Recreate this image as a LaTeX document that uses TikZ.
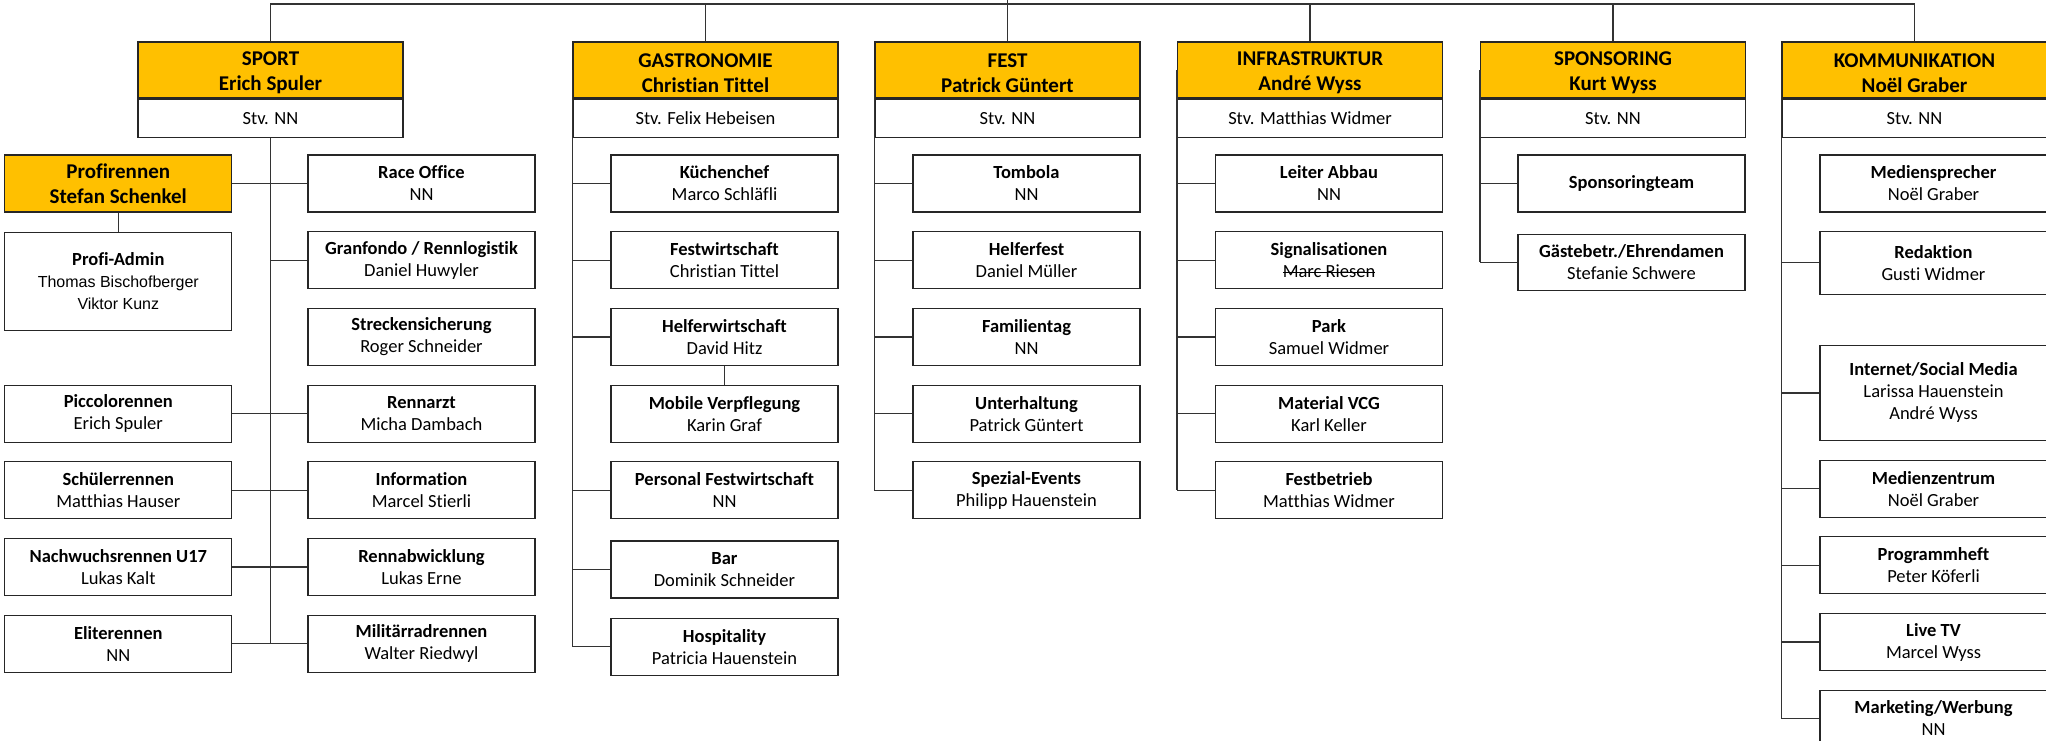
\documentclass[tikz,border=0pt]{standalone}
\usepackage{fontspec}
\setmainfont{Carlito}[Ligatures={NoCommon,NoContextual}]
\newfontfamily\arialfont{Liberation Sans}
\usetikzlibrary{positioning}
\definecolor{headgold}{HTML}{FFC000}
\newcommand\orghead{\fontsize{21}{25}\selectfont\bfseries}
\newcommand\orgunit{\fontsize{18.5}{22}\selectfont}
\newcommand\orgarial{\arialfont\fontsize{16}{20}\selectfont}
\newsavebox\strikebox
\newcommand\strikeout[1]{\sbox\strikebox{#1}\rlap{\rule[0.25em]{\wd\strikebox}{0.07em}}\usebox\strikebox}

\begin{document}
\begin{tikzpicture}[
	x=1pt,y=-1pt,
	node distance=18.5pt and 38pt,
	deptbox/.style={draw=black!85,line width=1.2pt,fill=headgold,minimum width=265pt,minimum height=56pt,align=center,font=\orghead,inner sep=0pt},
	stvbox/.style={draw=black!85,line width=1.2pt,fill=white,minimum width=265pt,minimum height=38pt,font=\orgunit,inner sep=0pt},
	unitbox/.style={draw=black!85,line width=1.2pt,fill=white,minimum width=227pt,minimum height=57pt,align=center,font=\orgunit,inner sep=0pt},
	link/.style={draw=black!80,line width=1.4pt}
	]
	\useasboundingbox (0,0) rectangle (2046,740);
	\coordinate (top) at (1007.5,4);
	\coordinate (root) at (1007.5,-10);

	\node[deptbox] (sport) at (270.5,70) {\rule{0pt}{20pt}SPORT\\Erich Spuler};
	\node[stvbox,below=0pt of sport] (sportstv) {Stv. NN};
	\node[deptbox] (gastro) at (705.5,70) {\rule{0pt}{20pt}GASTRONOMIE\\Christian Tittel};
	\node[stvbox,below=0pt of gastro] (gastrostv) {Stv. Felix Hebeisen};
	\node[deptbox] (fest) at (1007.5,70) {\rule{0pt}{20pt}FEST\\Patrick Güntert};
	\node[stvbox,below=0pt of fest] (feststv) {Stv. NN};
	\node[deptbox] (infra) at (1310,70) {\rule{0pt}{20pt}INFRASTRUKTUR\\André Wyss};
	\node[stvbox,below=0pt of infra] (infrastv) {Stv. Matthias Widmer};
	\node[deptbox] (spons) at (1613,70) {\rule{0pt}{20pt}SPONSORING\\Kurt Wyss};
	\node[stvbox,below=0pt of spons] (sponsstv) {Stv. NN};
	\node[deptbox] (komm) at (1914.5,70) {\rule{0pt}{20pt}KOMMUNIKATION\\Noël Graber};
	\node[stvbox,below=0pt of komm] (kommstv) {Stv. NN};

	\node[unitbox] (raceoffice) at (421.5,183.5) {\textbf{Race Office}\\NN};
	\node[unitbox,below=of raceoffice] (granfondo) {\textbf{Granfondo / Rennlogistik}\\Daniel Huwyler};
	\node[unitbox,below=of granfondo] (strecke) {\textbf{Streckensicherung}\\Roger Schneider};
	\node[unitbox,below=of strecke] (rennarzt) {\textbf{Rennarzt}\\Micha Dambach};
	\node[unitbox,below=of rennarzt] (information) {\textbf{Information}\\Marcel Stierli};
	\node[unitbox,below=of information] (rennabwicklung) {\textbf{Rennabwicklung}\\Lukas Erne};
	\node[unitbox,below=of rennabwicklung] (militaer) {\textbf{Militärradrennen}\\Walter Riedwyl};
	\node[unitbox,fill=headgold,font=\orghead,left=75pt of raceoffice] (profirennen) {Profirennen\\Stefan Schenkel};
	\node[unitbox,minimum height=98pt,below=19pt of profirennen] (profiadmin) {\textbf{Profi-Admin}\\\orgarial Thomas Bischofberger\\\orgarial Viktor Kunz};
	\node[unitbox,left=75pt of rennarzt] (piccolo) {\textbf{Piccolorennen}\\Erich Spuler};
	\node[unitbox,left=75pt of information] (schueler) {\textbf{Schülerrennen}\\Matthias Hauser};
	\node[unitbox,left=75pt of rennabwicklung] (nachwuchs) {\textbf{Nachwuchsrennen U17}\\Lukas Kalt};
	\node[unitbox,left=75pt of militaer] (elite) {\textbf{Eliterennen}\\NN};

	\node[unitbox] (kuechenchef) at (724.5,183.5) {\textbf{Küchenchef}\\Marco Schläfli};
	\node[unitbox,below=of kuechenchef] (festwirt) {\textbf{Festwirtschaft}\\Christian Tittel};
	\node[unitbox,below=of festwirt] (helferwirt) {\textbf{Helferwirtschaft}\\David Hitz};
	\node[unitbox,below=of helferwirt] (mobile) {\textbf{Mobile Verpflegung}\\Karin Graf};
	\node[unitbox,below=of mobile] (personal) {\textbf{Personal Festwirtschaft}\\NN};
	\node[unitbox,below=21pt of personal] (bar) {\textbf{Bar}\\Dominik Schneider};
	\node[unitbox,below=19pt of bar] (hospitality) {\textbf{Hospitality}\\Patricia Hauenstein};

	\node[unitbox] (tombola) at (1026.5,183.5) {\textbf{Tombola}\\NN};
	\node[unitbox,below=of tombola] (helferfest) {\textbf{Helferfest}\\Daniel Müller};
	\node[unitbox,below=of helferfest] (familientag) {\textbf{Familientag}\\NN};
	\node[unitbox,below=of familientag] (unterhaltung) {\textbf{Unterhaltung}\\Patrick Güntert};
	\node[unitbox,below=of unterhaltung] (spezial) {\textbf{Spezial-Events}\\Philipp Hauenstein};

	\node[unitbox] (abbau) at (1329,183.5) {\textbf{Leiter Abbau}\\NN};
	\node[unitbox,below=of abbau] (signal) {\textbf{Signalisationen}\\\strikeout{Marc Riesen}};
	\node[unitbox,below=of signal] (park) {\textbf{Park}\\Samuel Widmer};
	\node[unitbox,below=of park] (material) {\textbf{Material VCG}\\Karl Keller};
	\node[unitbox,below=of material] (festbetrieb) {\textbf{Festbetrieb}\\Matthias Widmer};

	\node[unitbox] (sponsteam) at (1631.5,183.5) {\textbf{Sponsoringteam}};
	\node[unitbox,minimum height=56pt,below=21pt of sponsteam] (gaeste) {\textbf{Gästebetr./Ehrendamen}\\Stefanie Schwere};

	\node[unitbox] (medien) at (1933.5,183.5) {\textbf{Mediensprecher}\\Noël Graber};
	\node[unitbox,minimum height=63pt,below=18pt of medien] (redaktion) {\textbf{Redaktion}\\Gusti Widmer};
	\node[unitbox,minimum height=95pt,below=50pt of redaktion] (internet) {\textbf{Internet/Social Media}\\Larissa Hauenstein\\André Wyss};
	\node[unitbox,below=of internet] (medienzentrum) {\textbf{Medienzentrum}\\Noël Graber};
	\node[unitbox,below=of medienzentrum] (programmheft) {\textbf{Programmheft}\\Peter Köferli};
	\node[unitbox,below=of programmheft] (livetv) {\textbf{Live TV}\\Marcel Wyss};
	\node[unitbox,minimum height=56pt,below=of livetv] (marketing) {\textbf{Marketing/Werbung}\\NN};

	\draw[link] (sport.north) |- (top) -| (komm.north);
	\draw[link] (root) -- (fest.north);
	\path[link]
		(gastro.north) edge (gastro.north |- top)
		(infra.north) edge (infra.north |- top)
		(spons.north) edge (spons.north |- top);

	\draw[link] (sportstv.south) -- (sportstv.south |- elite);
	\path[link]
		(profirennen) edge (raceoffice)
		(profirennen) edge (profiadmin)
		(granfondo) edge (granfondo -| sportstv.south)
		(piccolo) edge (rennarzt)
		(schueler) edge (information)
		(nachwuchs) edge (rennabwicklung)
		(elite) edge (militaer);

	\draw[link] (gastro.west) -- (gastro.west |- hospitality);
	\path[link]
		(kuechenchef) edge (kuechenchef -| gastro.west)
		(festwirt) edge (festwirt -| gastro.west)
		(helferwirt) edge (helferwirt -| gastro.west)
		(helferwirt) edge (mobile)
		(personal) edge (personal -| gastro.west)
		(bar) edge (bar -| gastro.west)
		(hospitality) edge (hospitality -| gastro.west);

	\draw[link] (fest.west) -- (fest.west |- spezial);
	\path[link]
		(tombola) edge (tombola -| fest.west)
		(helferfest) edge (helferfest -| fest.west)
		(familientag) edge (familientag -| fest.west)
		(unterhaltung) edge (unterhaltung -| fest.west)
		(spezial) edge (spezial -| fest.west);

	\draw[link] (infra.west) -- (infra.west |- festbetrieb);
	\path[link]
		(abbau) edge (abbau -| infra.west)
		(signal) edge (signal -| infra.west)
		(park) edge (park -| infra.west)
		(material) edge (material -| infra.west)
		(festbetrieb) edge (festbetrieb -| infra.west);

	\draw[link] (spons.west) -- (spons.west |- gaeste);
	\path[link]
		(sponsteam) edge (sponsteam -| spons.west)
		(gaeste) edge (gaeste -| spons.west);

	\draw[link] (komm.west) -- (komm.west |- marketing);
	\path[link]
		(redaktion) edge (redaktion -| komm.west)
		(internet) edge (internet -| komm.west)
		(medienzentrum) edge (medienzentrum -| komm.west)
		(programmheft) edge (programmheft -| komm.west)
		(livetv) edge (livetv -| komm.west)
		(marketing) edge (marketing -| komm.west);
\end{tikzpicture}
\end{document}
